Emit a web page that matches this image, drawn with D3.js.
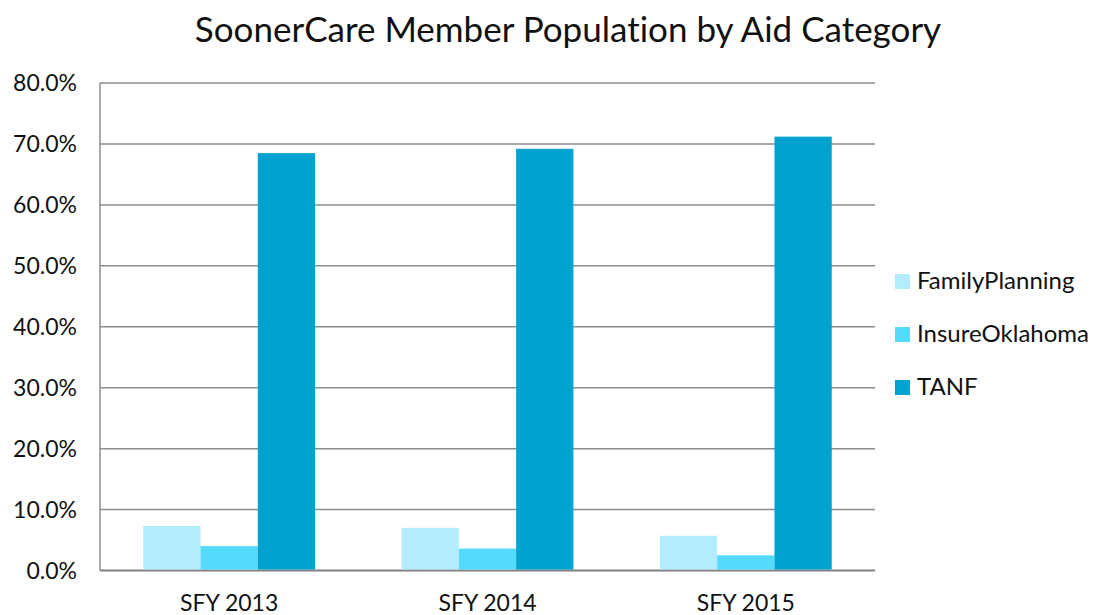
<!DOCTYPE html>
<html lang="en">
<head>
<meta charset="UTF-8">
<title>SoonerCare Member Population by Aid Category</title>
<style>
  body { margin: 0; background: #fff; font-family: Lato, "Open Sans", sans-serif; }
  svg text { fill: #111; font-variant-ligatures: none; }
</style>
</head>
<body>
<div id="chart"></div>
<script src="https://d3js.org/d3.v7.min.js"></script>
<script>
// data
const years = ["SFY 2013", "SFY 2014", "SFY 2015"];
const seriesNames = ["FamilyPlanning", "InsureOklahoma", "TANF"];
const familyPlanning = [7.3, 7.0, 5.7];
const insureOklahoma = [4.0, 3.6, 2.5];
const tanf = [68.5, 69.2, 71.2];
const yTicks = [0, 10, 20, 30, 40, 50, 60, 70, 80];
const colors = ["#b3edfd", "#54dafd", "#00a2cf"];

const values = [familyPlanning, insureOklahoma, tanf];

const width = 1099, height = 615;
const margin = {top: 83, right: 224, bottom: 45, left: 100};

const svg = d3.select("#chart").append("svg")
    .attr("width", width)
    .attr("height", height);

// title
svg.append("text")
    .attr("x", 568)
    .attr("y", 42)
    .attr("text-anchor", "middle")
    .style("font-size", "35px")
    .text("SoonerCare Member Population by Aid Category");

const x0 = d3.scaleBand()
    .domain(years)
    .range([margin.left, width - margin.right])
    .paddingInner(0.335)
    .paddingOuter(0.1675);

const x1 = d3.scaleBand()
    .domain(seriesNames)
    .range([0, x0.bandwidth()]);

const y = d3.scaleLinear()
    .domain([0, 80])
    .range([height - margin.bottom + 0.5, margin.top]);

// gridlines
svg.append("g")
    .selectAll("line")
    .data(yTicks)
    .join("line")
    .attr("x1", margin.left)
    .attr("x2", width - margin.right)
    .attr("y1", d => y(d))
    .attr("y2", d => y(d))
    .attr("stroke", d => d === 0 ? "#808080" : "#8c8c8c")
    .attr("stroke-width", d => d === 0 ? 2 : 1.5);

// left axis line
svg.append("line")
    .attr("x1", margin.left).attr("x2", margin.left)
    .attr("y1", y(80)).attr("y2", y(0))
    .attr("stroke", "#8c8c8c")
    .attr("stroke-width", 1.5);

// y labels
svg.append("g")
    .selectAll("text")
    .data(yTicks)
    .join("text")
    .attr("x", 77)
    .attr("y", d => y(d) + 8)
    .attr("text-anchor", "end")
    .style("font-size", "23px")
    .text(d => d.toFixed(1) + "%");

// bars
const groups = svg.append("g")
    .selectAll("g")
    .data(years)
    .join("g")
    .attr("transform", d => `translate(${x0(d)},0)`);

groups.selectAll("rect")
    .data((d, i) => seriesNames.map((s, j) => ({s, v: values[j][i], c: colors[j]})))
    .join("rect")
    .attr("x", d => x1(d.s))
    .attr("width", x1.bandwidth())
    .attr("y", d => y(d.v))
    .attr("height", d => y(0) - y(d.v) - 1)
    .attr("fill", d => d.c);

// x labels
svg.append("g")
    .selectAll("text")
    .data(years)
    .join("text")
    .attr("x", d => x0(d) + x0.bandwidth() / 2)
    .attr("y", 611)
    .attr("text-anchor", "middle")
    .style("font-size", "23px")
    .text(d => d);

// legend
const legend = svg.append("g")
    .selectAll("g")
    .data(seriesNames)
    .join("g")
    .attr("transform", (d, i) => `translate(895, ${274 + i * 53})`);

legend.append("rect")
    .attr("width", 15)
    .attr("height", 15)
    .attr("fill", (d, i) => colors[i]);

legend.append("text")
    .attr("x", 22)
    .attr("y", 15)
    .style("font-size", "24px")
    .text(d => d);
</script>
</body>
</html>
